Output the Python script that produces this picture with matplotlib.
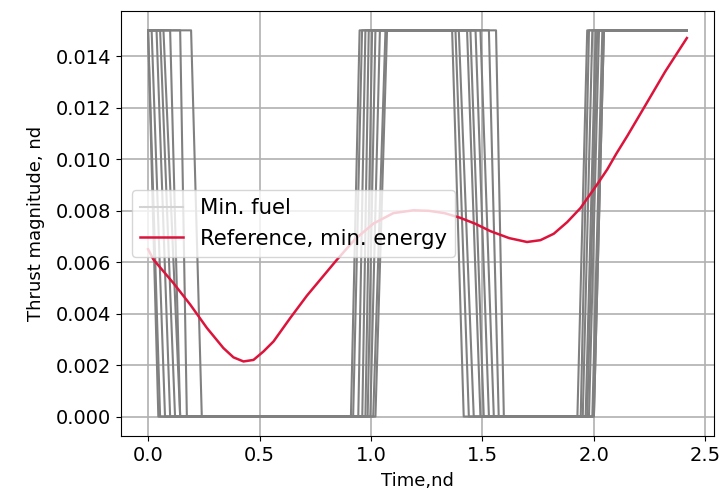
import numpy as np
import matplotlib
matplotlib.use('Agg')
import matplotlib.pyplot as plt
from matplotlib.lines import Line2D

# Thrust bound (nd) and final time
u_max = 0.015
t_final = 2.417

# Min. fuel switching intervals: (ramp start, ramp end)
drop1 = [(0.000, 0.046), (0.000, 0.054), (0.016, 0.076), (0.038, 0.099), (0.054, 0.121),
         (0.069, 0.144), (0.099, 0.144), (0.144, 0.174), (0.193, 0.241)]
rise1 = [(0.910, 0.949), (0.920, 0.960), (0.943, 0.975), (0.961, 0.990), (0.975, 1.005),
         (0.985, 1.020), (0.997, 1.040), (1.010, 1.065), (1.020, 1.072)]
drop2 = [(1.364, 1.416), (1.379, 1.439), (1.394, 1.461), (1.431, 1.491), (1.446, 1.506),
         (1.469, 1.529), (1.491, 1.551), (1.529, 1.573), (1.561, 1.596)]
rise2 = [(1.926, 1.970), (1.941, 1.978), (1.950, 1.993), (1.963, 2.008), (1.970, 2.015),
         (1.978, 2.023), (1.993, 2.038), (2.000, 2.045), (2.000, 2.045)]

# Reference min. energy thrust profile
t_ref = [0.0, 0.024, 0.114, 0.189, 0.264, 0.338, 0.383, 0.428, 0.473, 0.518, 0.563,
         0.638, 0.713, 0.848, 0.93, 1.012, 1.10, 1.19, 1.26, 1.33, 1.40, 1.47, 1.536,
         1.62, 1.70, 1.76, 1.82, 1.88, 1.94, 2.015, 2.06, 2.10, 2.15, 2.225, 2.32, 2.417]
u_ref = [0.0065, 0.0061, 0.00518, 0.00435, 0.00344, 0.00266, 0.0023, 0.00214, 0.0022,
         0.00253, 0.00292, 0.00383, 0.0047, 0.0061, 0.0069, 0.0075, 0.0079, 0.00801,
         0.00799, 0.0079, 0.00772, 0.00748, 0.0072, 0.00693, 0.00678, 0.00685, 0.0071,
         0.00755, 0.0081, 0.00902, 0.0096, 0.0102, 0.0109, 0.0120, 0.0134, 0.0147]

fig, ax = plt.subplots(figsize=(7.21, 5.01), dpi=100)

for d1, r1, d2, r2 in zip(drop1, rise1, drop2, rise2):
    tt = [0.0, d1[0], d1[1], r1[0], r1[1], d2[0], d2[1], r2[0], r2[1], t_final]
    uu = [u_max, u_max, 0, 0, u_max, u_max, 0, 0, u_max, u_max]
    ax.plot(tt, uu, color='gray', lw=1.5)

ax.plot(t_ref, u_ref, color='crimson', lw=1.8)

handles = [Line2D([], [], color='lightgray', lw=1.5),
           Line2D([], [], color='crimson', lw=1.8)]
ax.legend(handles, ['Min. fuel', 'Reference, min. energy'], loc='center left', fontsize=15.3)

ax.set_xlabel('Time,nd', fontsize=13, labelpad=5)
ax.set_ylabel('Thrust magnitude, nd', fontsize=13, labelpad=8)
ax.tick_params(labelsize=14)
ax.grid(True, lw=1.2)
ax.set_axisbelow(True)

fig.subplots_adjust(left=0.168, right=0.99, top=0.978, bottom=0.13)
fig.savefig('out.png', dpi=100)
